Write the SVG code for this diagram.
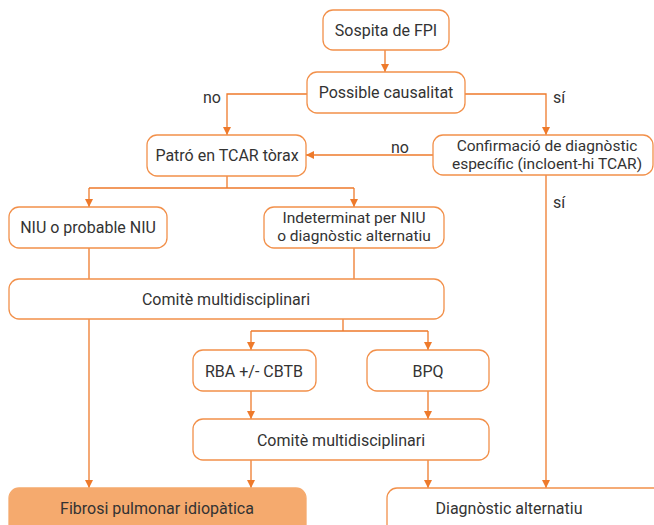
<svg xmlns="http://www.w3.org/2000/svg" width="654" height="525" viewBox="0 0 654 525">
<style>
.box{fill:#fff;stroke:#F2904A;stroke-width:1.3}
.fill{fill:#F5AA6E;stroke:#F5AA6E;stroke-width:1.3}
.t{font-family:Roboto,"Liberation Sans",sans-serif;font-size:16px;fill:#333;text-anchor:middle}
.t2{font-family:Roboto,"Liberation Sans",sans-serif;font-size:15.5px;fill:#333;text-anchor:middle}
.c{fill:none;stroke:#EE7A2B;stroke-width:1.3}
</style>
<defs>
<marker id="ah" viewBox="0 0 10 10" refX="10" refY="5" markerWidth="8" markerHeight="8" markerUnits="userSpaceOnUse" orient="auto">
<path d="M0,0 L10,5 L0,10 z" fill="#EE7A2B"/>
</marker>
</defs>
<rect width="654" height="525" fill="#fff"/>
<g id="connectors">
<path class="c" d="M385,50 V72" marker-end="url(#ah)"/>
<path class="c" d="M307,94 H227 V135" marker-end="url(#ah)"/>
<path class="c" d="M465,94 H546 V135" marker-end="url(#ah)"/>
<path class="c" d="M433,155 H306" marker-end="url(#ah)"/>
<path class="c" d="M227,176 V188 M89,188 H354"/>
<path class="c" d="M89,188 V207" marker-end="url(#ah)"/>
<path class="c" d="M354,188 V207" marker-end="url(#ah)"/>
<path class="c" d="M89,248 V279 M354,248 V279"/>
<path class="c" d="M89,319 V488" marker-end="url(#ah)"/>
<path class="c" d="M343,319 V331 M251,331 H428"/>
<path class="c" d="M251,331 V350" marker-end="url(#ah)"/>
<path class="c" d="M428,331 V350" marker-end="url(#ah)"/>
<path class="c" d="M251,391 V419" marker-end="url(#ah)"/>
<path class="c" d="M428,391 V419" marker-end="url(#ah)"/>
<path class="c" d="M251,460 V488" marker-end="url(#ah)"/>
<path class="c" d="M428,460 V488" marker-end="url(#ah)"/>
<path class="c" d="M546,175 V488" marker-end="url(#ah)"/>
<text class="t" x="212" y="103">no</text>
<text class="t" x="559" y="103">sí</text>
<text class="t" x="400" y="153">no</text>
<text class="t" x="559" y="208">sí</text>
</g>
<g id="sospita"><rect class="box" x="323" y="10" width="126" height="40" rx="10"/><text class="t" x="386" y="36">Sospita de FPI</text></g>
<g id="causalitat"><rect class="box" x="307" y="72" width="158" height="41" rx="10"/><text class="t" x="386" y="98">Possible causalitat</text></g>
<g id="patro"><rect class="box" x="147" y="135" width="159" height="41" rx="10"/><text class="t" x="227" y="161">Patró en TCAR tòrax</text></g>
<g id="confirmacio"><rect class="box" x="433" y="135" width="220" height="40" rx="10"/><text class="t2" x="547" y="151">Confirmació de diagnòstic</text><text class="t2" x="547" y="169">específic (incloent-hi TCAR)</text></g>
<g id="niu"><rect class="box" x="9" y="207" width="158" height="41" rx="10"/><text class="t" x="88" y="233">NIU o probable NIU</text></g>
<g id="indeterminat"><rect class="box" x="264" y="207" width="180" height="41" rx="10"/><text class="t2" x="354" y="223">Indeterminat per NIU</text><text class="t2" x="354" y="241">o diagnòstic alternatiu</text></g>
<g id="comite1"><rect class="box" x="9" y="279" width="435" height="40" rx="10"/><text class="t" x="226" y="305">Comitè multidisciplinari</text></g>
<g id="rba"><rect class="box" x="193" y="350" width="123" height="41" rx="10"/><text class="t" x="254" y="377">RBA +/- CBTB</text></g>
<g id="bpq"><rect class="box" x="367" y="350" width="122" height="41" rx="10"/><text class="t" x="428" y="377">BPQ</text></g>
<g id="comite2"><rect class="box" x="193" y="419" width="296" height="41" rx="10"/><text class="t" x="341" y="446">Comitè multidisciplinari</text></g>
<g id="fibrosi"><rect class="fill" x="9" y="488" width="297" height="50" rx="10"/><text class="t" x="157" y="514">Fibrosi pulmonar idiopàtica</text></g>
<g id="diagnostic"><rect class="box" x="387" y="488" width="290" height="50" rx="10"/><text class="t" x="509" y="514">Diagnòstic alternatiu</text></g>
</svg>
